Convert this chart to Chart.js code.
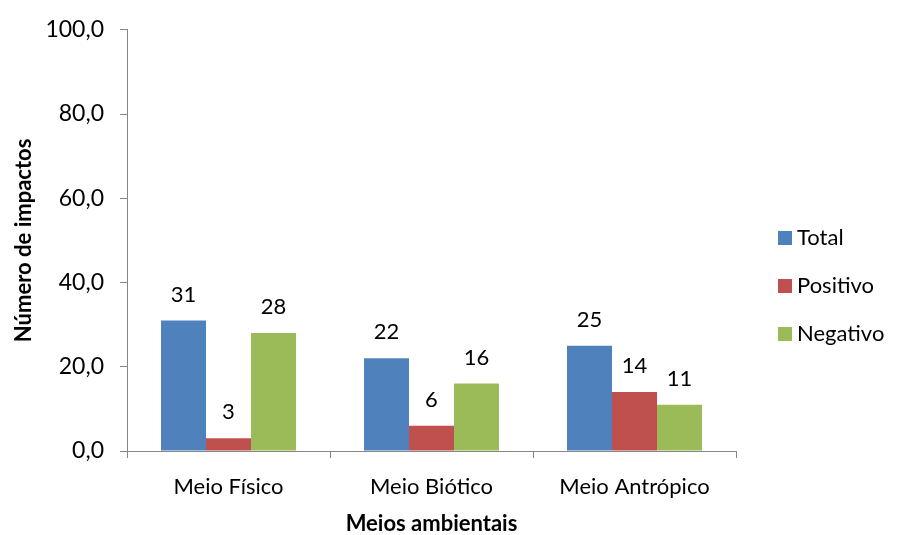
<!DOCTYPE html>
<html>
<head>
<meta charset="utf-8">
<script src="https://cdn.jsdelivr.net/npm/chart.js@4"></script>
<style>
  html, body { margin: 0; padding: 0; background: #fff; }
  #wrap { width: 898px; height: 535px; }
</style>
</head>
<body>
<div id="wrap"><canvas id="chart" width="898" height="535"></canvas></div>
<script>
const categories = ["Meio Físico", "Meio Biótico", "Meio Antrópico"];
const totalValues = [31, 22, 25];
const positivoValues = [3, 6, 14];
const negativoValues = [28, 16, 11];
const yTicks = [0, 20, 40, 60, 80, 100];

const FONT = "Lato, 'Open Sans', sans-serif";

// draw the numbers above every bar
const barLabels = {
    id: "barLabels",
    afterDatasetsDraw(chart) {
        const ctx = chart.ctx;
        ctx.save();
        ctx.font = "22px " + FONT;
        ctx.fillStyle = "#000";
        ctx.textAlign = "center";
        ctx.textBaseline = "middle";
        chart.data.datasets.forEach((ds, i) => {
            chart.getDatasetMeta(i).data.forEach((bar, j) => {
                ctx.fillText(String(ds.data[j]), bar.x, bar.y - 26);
            });
        });
        ctx.restore();
    }
};

// legend on the right, one item per dataset
const sideLegend = {
    id: "sideLegend",
    afterDraw(chart) {
        const ctx = chart.ctx;
        const x = chart.chartArea.right + 42;
        const y0 = 238;
        ctx.save();
        ctx.font = "22px " + FONT;
        ctx.textBaseline = "middle";
        ctx.textAlign = "left";
        chart.data.datasets.forEach((ds, i) => {
            const y = y0 + i * 48;
            ctx.fillStyle = ds.backgroundColor;
            ctx.fillRect(x, y - 7, 14, 14);
            ctx.fillStyle = "#000";
            ctx.fillText(ds.label, x + 19, y);
        });
        ctx.restore();
    }
};

new Chart(document.getElementById("chart").getContext("2d"), {
    type: "bar",
    data: {
        labels: categories,
        datasets: [
            { label: "Total", data: totalValues, backgroundColor: "#4F81BD" },
            { label: "Positivo", data: positivoValues, backgroundColor: "#C0504D" },
            { label: "Negativo", data: negativoValues, backgroundColor: "#9BBB59" }
        ]
    },
    options: {
        responsive: false,
        animation: false,
        layout: { padding: { top: 12, right: 162, bottom: 0, left: 10 } },
        datasets: { bar: { barPercentage: 1, categoryPercentage: 0.665 } },
        plugins: {
            tooltip: { enabled: false },
            legend: { display: false }
        },
        scales: {
            x: {
                afterFit: scale => { scale.height = 84; },
                grid: { drawOnChartArea: false, tickLength: 7, color: "#868686", offset: true },
                border: { color: "#868686" },
                ticks: { font: { family: FONT, size: 22 }, color: "#000", padding: 16 },
                title: { display: true, text: "Meios ambientais", font: { family: FONT, size: 22, weight: "bold", lineHeight: 1 }, color: "#000", padding: { top: 0, bottom: 0 } }
            },
            y: {
                min: 0,
                max: 100,
                afterFit: scale => { scale.width = 117; },
                afterBuildTicks: scale => { scale.ticks = yTicks.map(v => ({ value: v })); },
                grid: { drawOnChartArea: false, tickLength: 7, color: "#868686" },
                border: { color: "#868686" },
                ticks: {
                    font: { family: FONT, size: 23 },
                    color: "#000",
                    padding: 16,
                    callback: v => v.toFixed(1).replace(".", ",")
                },
                title: { display: true, text: "Número de impactos", font: { family: FONT, size: 22, weight: "bold", lineHeight: 1 }, color: "#000", padding: { top: 3, bottom: 0 } }
            }
        }
    },
    plugins: [barLabels, sideLegend]
});
</script>
</body>
</html>
